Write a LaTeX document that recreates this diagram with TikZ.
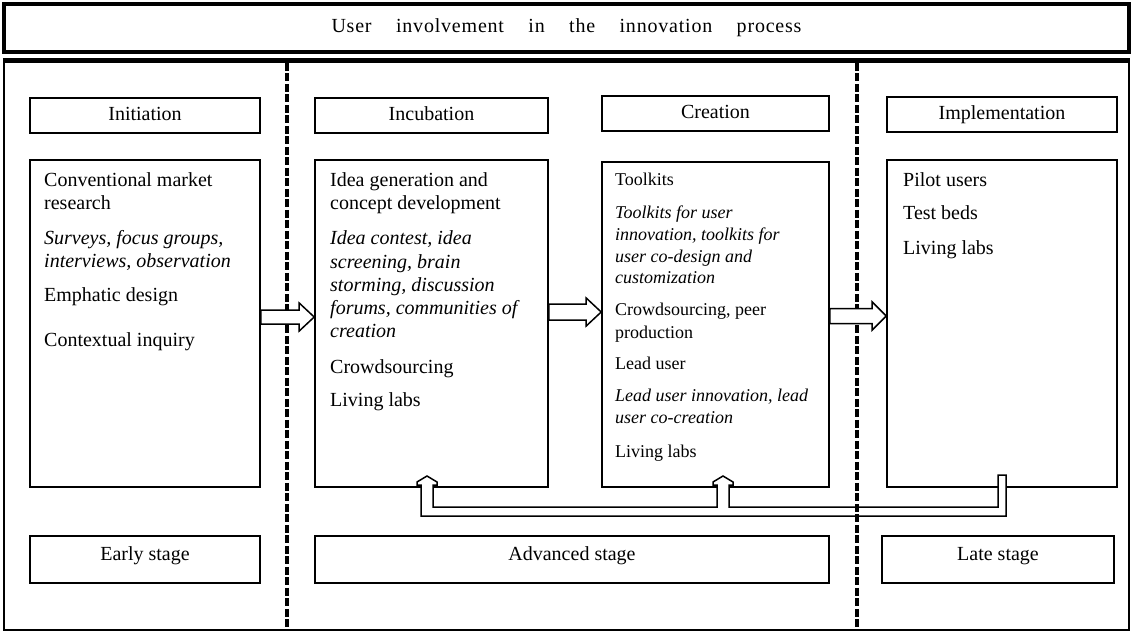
\documentclass[tikz,border=0pt]{standalone}
\usepackage{fontspec}
\setmainfont{Liberation Serif}
\usetikzlibrary{calc}
\begin{document}
\begin{tikzpicture}[x=1pt,y=-1pt,
  box/.style={draw, line width=1.6pt, inner sep=0pt, fill=white},
  headbox/.style={box, minimum height=35pt, text height=13pt, text depth=3pt,
    font=\fontsize{20}{23}\selectfont},
  stagebox/.style={box, minimum height=47pt, text height=13pt, text depth=11pt,
    font=\fontsize{20}{23}\selectfont},
  listbox/.style={box, minimum width=230pt, minimum height=327pt},
  txt/.style={anchor=base west, inner sep=0pt, font=\fontsize{20}{23}\selectfont},
  itxt/.style={anchor=base west, inner sep=0pt, font=\fontsize{20}{23}\selectfont\itshape},
  stxt/.style={anchor=base west, inner sep=0pt, font=\fontsize{18}{22}\selectfont},
  sitxt/.style={anchor=base west, inner sep=0pt, font=\fontsize{18}{22}\selectfont\itshape},
  divider/.style={line width=3.6pt, dash pattern=on 8pt off 2.5pt},
  hollow/.style={draw, line width=1.5pt, fill=white, line join=miter},
  loopback/.style={draw, line width=1.5pt, fill=white, line join=miter}
]
\useasboundingbox (0,0) rectangle (1133,633);

% title bar
\node[draw, line width=3.2pt, minimum width=1125pt, minimum height=48pt, inner sep=0pt,
  font=\fontsize{20}{23}\selectfont\addfontfeature{LetterSpace=4}] (title) at (566.5,28)
  {\makebox[470pt][s]{User involvement in the innovation process}};

% outer frame
\node[draw, line width=2.5pt, minimum width=1125pt, minimum height=568pt, inner sep=0pt]
  (frame) at (566.5,346) {};
\draw[line width=5pt] (frame.north west) -- (frame.north east);

% phase headers
\node[headbox, minimum width=230pt] (initH) at (145,115.5) {Initiation};
\node[headbox, minimum width=233pt] (incH) at (431.5,115.5) {Incubation};
\node[headbox, minimum width=227pt] (creH) at (715.5,113.5) {Creation};
\node[headbox, minimum width=230pt] (impH) at (1002,114.5) {Implementation};

% method lists
\node[listbox] (initC) at (145,323.5) {};
\node[listbox, minimum width=233pt] (incC) at (431.5,323.5) {};
\node[listbox, minimum width=227pt, minimum height=325pt] (creC) at (715.5,324.5) {};
\node[listbox] (impC) at (1002,323.5) {};

% loop back from implementation to incubation and creation
\draw[loopback] (421,516) -- (421,485) -- (417,485) -- (417,482) -- (427,476)
  -- (437,482) -- (437,485) -- (433,485) -- (433,507) -- (717,507) -- (717,485)
  -- (713,485) -- (713,482) -- (723,476) -- (733,482) -- (733,485) -- (729,485)
  -- (729,507) -- (998,507) -- (998,475) -- (1006,475) -- (1006,516) -- cycle;

% stage labels
\node[stagebox, minimum width=230pt] (early) at (145,559.5) {Early stage};
\node[stagebox, minimum width=514pt] (adv) at (572,559.5) {Advanced stage};
\node[stagebox, minimum width=232pt] (late) at (998,559.5) {Late stage};

% stage dividers
\draw[divider] (frame.north -| 287,0) ++(0,2) -- (frame.south -| 287,0);
\draw[divider] (frame.north -| 857,0) ++(0,2) -- (frame.south -| 857,0);

% hollow arrows between phases
\coordinate (t1) at (initC.east |- 0,317);
\coordinate (h1) at (incC.west |- 0,317);
\draw[hollow] ($(t1)+(0,-7)$) -- ($(h1)+(-15,-7)$) -- ($(h1)+(-15,-14)$) -- (h1)
  -- ($(h1)+(-15,14)$) -- ($(h1)+(-15,7)$) -- ($(t1)+(0,7)$) -- cycle;
\coordinate (t2) at (incC.east |- 0,312);
\coordinate (h2) at (creC.west |- 0,312);
\draw[hollow] ($(t2)+(0,-8)$) -- ($(h2)+(-15,-8)$) -- ($(h2)+(-15,-14)$) -- (h2)
  -- ($(h2)+(-15,14)$) -- ($(h2)+(-15,8)$) -- ($(t2)+(0,8)$) -- cycle;
\coordinate (t3) at (creC.east |- 0,316);
\coordinate (h3) at (impC.west |- 0,316);
\draw[hollow] ($(t3)+(0,-7.5)$) -- ($(h3)+(-14,-7.5)$) -- ($(h3)+(-14,-14)$) -- (h3)
  -- ($(h3)+(-14,14)$) -- ($(h3)+(-14,7.5)$) -- ($(t3)+(0,7.5)$) -- cycle;

% initiation
\node[txt] (i1) at (44,186) {Conventional market};
\node[txt] (i2) at (44,209) {research};
\node[itxt] (i3) at (44,244) {Surveys, focus groups,};
\node[itxt] (i4) at (44,267) {interviews, observation};
\node[txt] (i5) at (44,301) {Emphatic design};
\node[txt] (i6) at (44,346) {Contextual inquiry};

% incubation
\node[txt] (n1) at (330,186) {Idea generation and};
\node[txt] (n2) at (330,209) {concept development};
\node[itxt] (n3) at (330,244) {Idea contest, idea};
\node[itxt] (n4) at (330,268) {screening, brain};
\node[itxt] (n5) at (330,291) {storming, discussion};
\node[itxt] (n6) at (330,314) {forums, communities of};
\node[itxt] (n7) at (330,337) {creation};
\node[txt] (n8) at (330,373) {Crowdsourcing};
\node[txt] (n9) at (330,406) {Living labs};

% creation
\node[stxt] (c1) at (615,185) {Toolkits};
\node[sitxt] (c2) at (615,218) {Toolkits for user};
\node[sitxt] (c3) at (615,240) {innovation, toolkits for};
\node[sitxt] (c4) at (615,262) {user co-design and};
\node[sitxt] (c5) at (615,283) {customization};
\node[stxt] (c6) at (615,315) {Crowdsourcing, peer};
\node[stxt] (c7) at (615,338) {production};
\node[stxt] (c8) at (615,369) {Lead user};
\node[sitxt] (c9) at (615,401) {Lead user innovation, lead};
\node[sitxt] (c10) at (615,423) {user co-creation};
\node[stxt] (c11) at (615,457) {Living labs};

% implementation
\node[txt] (m1) at (903,186) {Pilot users};
\node[txt] (m2) at (903,219) {Test beds};
\node[txt] (m3) at (903,254) {Living labs};
\end{tikzpicture}
\end{document}
